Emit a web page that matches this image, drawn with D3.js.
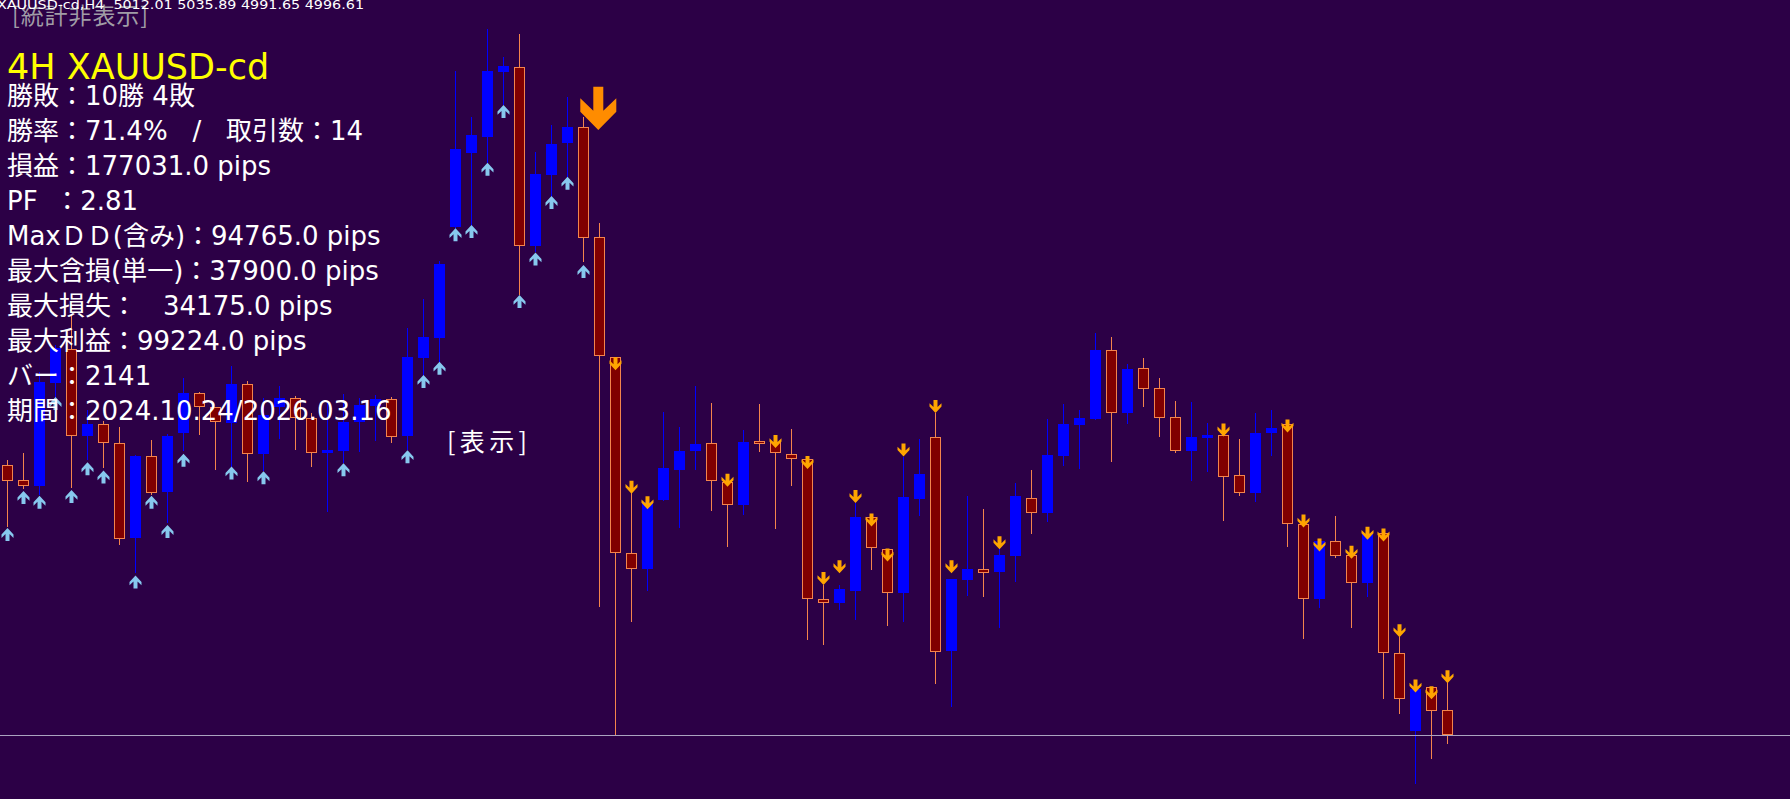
<!DOCTYPE html>
<html><head><meta charset="utf-8">
<script src="https://cdn.jsdelivr.net/npm/d3@7"></script>
<style>html,body{margin:0;padding:0;background:#2c0046;overflow:hidden} text{white-space:pre}</style>
</head><body><svg id="c" width="1790" height="799"></svg>
<script>
// ---- data (XAUUSD-cd, H4) ----
const opens = [5161.1,5152.0,5148.5,5211.2,5231.5,5178.9,5185.9,5174.3,5116.9,5166.6,
5144.8,5180.4,5204.7,5196.2,5186.5,5210.4,5167.8,5196.2,5201.7,5189.5,
5168.3,5169.8,5187.5,5197.0,5201.1,5178.9,5226.4,5238.6,5306.1,5351.2,
5360.9,5400.5,5403.1,5294.6,5337.6,5356.9,5366.6,5300.0,5226.8,5107.8,
5098.2,5139.9,5158.4,5169.7,5174.4,5150.6,5137.1,5175.7,5175.1,5167.6,
5164.6,5079.5,5077.3,5084.6,5129.3,5110.0,5083.4,5140.4,5178.0,5048.1,
5091.1,5097.6,5096.2,5105.9,5140.8,5131.7,5166.6,5185.4,5189.1,5231.1,
5193.1,5220.0,5207.8,5190.1,5169.8,5177.7,5179.4,5155.0,5144.2,5180.6,
5186.1,5125.2,5079.4,5114.8,5106.3,5089.1,5120.1,5046.5,4999.4,5026.2,5012.01];
const highs = [5164.1,5168.2,5217.7,5234.1,5253.0,5194.6,5188.1,5184.4,5167.2,5176.3,
5179.9,5213.9,5205.5,5196.7,5221.4,5212.2,5201.7,5209.2,5203.1,5192.6,
5198.8,5204.3,5201.9,5203.7,5202.7,5244.3,5261.9,5285.6,5400.9,5373.1,
5426.3,5409.2,5423.4,5351.8,5368.0,5385.2,5372.7,5308.5,5226.8,5144.1,
5139.2,5193.2,5184.6,5209.2,5199.2,5150.8,5182.5,5198.2,5175.7,5183.0,
5164.7,5088.1,5088.1,5137.8,5129.5,5110.3,5166.0,5176.7,5192.6,5092.0,
5142.2,5134.3,5110.0,5150.0,5158.1,5188.9,5198.2,5194.6,5241.6,5239.2,
5222.4,5226.0,5213.9,5200.1,5199.6,5186.5,5179.7,5177.3,5192.6,5194.6,
5186.4,5125.4,5115.2,5130.1,5106.6,5119.4,5120.3,5056.6,5024.8,5026.3,5035.89];
const lows = [5123.6,5146.5,5142.8,5200.7,5146.9,5164.1,5159.1,5112.4,5095.2,5142.8,
5125.6,5169.6,5179.4,5158.1,5160.1,5150.8,5157.6,5177.3,5170.2,5160.1,
5132.7,5162.3,5169.2,5175.7,5174.7,5170.2,5214.8,5223.8,5304.4,5306.1,
5344.7,5380.2,5264.6,5290.5,5324.4,5335.6,5284.6,5074.7,4996.2,5065.8,
5084.3,5139.5,5122.8,5158.4,5133.4,5111.0,5130.7,5169.1,5122.4,5148.5,
5055.0,5051.9,5072.9,5067.0,5097.2,5063.1,5065.7,5130.1,5027.8,5014.0,
5081.4,5081.0,5061.8,5090.1,5119.0,5126.6,5160.5,5158.9,5188.5,5163.1,
5186.1,5196.6,5178.0,5168.6,5151.6,5157.2,5127.2,5142.4,5138.8,5166.6,
5111.4,5055.6,5073.9,5104.3,5062.3,5081.0,5019.1,5009.5,4967.0,4982.0,4991.65];
const closes = [5151.5,5148.5,5211.4,5232.1,5178.9,5186.1,5174.3,5116.2,5166.6,5144.2,
5178.9,5205.1,5196.2,5187.5,5210.4,5167.6,5191.6,5201.7,5189.5,5168.7,
5170.2,5187.3,5197.6,5201.1,5178.3,5226.6,5238.8,5283.6,5353.4,5361.9,
5400.9,5403.9,5294.6,5338.2,5356.5,5367.0,5299.2,5227.8,5107.8,5098.2,
5138.8,5159.1,5169.7,5174.0,5151.7,5136.6,5175.1,5174.0,5168.2,5165.1,
5079.4,5077.5,5085.5,5129.6,5110.8,5083.4,5141.8,5155.6,5047.5,5091.7,
5097.8,5095.6,5106.3,5142.2,5131.7,5167.2,5186.1,5189.5,5231.1,5193.1,
5219.5,5207.2,5189.9,5169.8,5178.0,5179.4,5154.0,5144.2,5180.9,5183.9,
5125.2,5079.4,5114.8,5105.9,5089.1,5119.1,5046.5,5018.5,5024.6,5011.6,4996.61];

const buyBars   = [0,1,2,3,4,5,6,8,9,10,11,14,16,21,25,26,27,28,29,30,31,32,33,34,35,36];
const buyPrices = [5122.8,5145.4,5142.4,5202.5,5146.0,5162.8,5157.9,5094.0,5142.4,5124.6,5168.0,5160.3,5157.3,5162.3,5170.2,5215.9,5224.0,5305.2,5307.2,5345.1,5380.2,5264.6,5290.5,5324.8,5336.6,5282.8];
const sellBars   = [38,39,40,45,48,50,51,52,53,54,55,56,58,59,62,76,80,81,82,84,85,86,87,88,89,90];
const sellPrices = [5226.8,5151.6,5142.2,5155.9,5179.4,5166.6,5096.0,5103.3,5145.9,5131.7,5110.4,5174.3,5200.7,5103.3,5117.9,5186.5,5188.9,5131.1,5116.5,5112.0,5123.6,5122.6,5064.3,5030.7,5026.6,5036.3];
const bigSellBar = 36, bigSellPrice = 5391.3;

const headerText = "XAUUSD-cd,H4  5012.01 5035.89 4991.65 4996.61";
const titleText = "4H XAUUSD-cd";
const statLines = [
 "勝敗：10勝 4敗",
 "勝率：71.4%   /   取引数：14",
 "損益：177031.0 pips",
 "PF  ：2.81",
 "MaxＤＤ(含み)：94765.0 pips",
 "最大含損(単一)：37900.0 pips",
 "最大損失：　34175.0 pips",
 "最大利益：99224.0 pips",
 "バー：2141",
 "期間：2024.10.24/2026.03.16"
];
const bidPrice = 4996.61;

// ---- drawing ----
const W = 1790, H = 799;
const svg = d3.select('#c');
svg.append('rect').attr('width', W).attr('height', H).attr('fill', '#2c0046');

const x = d3.scaleLinear().domain([0, 90]).range([7.3, 1447.3]);
const y = d3.scaleLinear().domain([4957.96, 5444.1]).range([799, 0]);

const BULL = '#0000ff', BEAR_FILL = '#800000', BEAR_LINE = '#f4844c';
const data = opens.map((o, i) => ({i, o, h: highs[i], l: lows[i], c: closes[i]}));

const g = svg.append('g');
data.forEach(d => {
  const cx = Math.round(x(d.i));
  const bull = d.c >= d.o;
  const col = bull ? BULL : BEAR_LINE;
  g.append('line').attr('x1', cx + 0.5).attr('x2', cx + 0.5)
    .attr('y1', Math.round(y(d.h))).attr('y2', Math.round(y(d.l)))
    .attr('stroke', col).attr('stroke-width', 1);
  const top = Math.round(y(Math.max(d.o, d.c)));
  const bot = Math.round(y(Math.min(d.o, d.c)));
  if (bull) {
    g.append('rect').attr('x', cx - 5).attr('y', top).attr('width', 11)
      .attr('height', Math.max(1, bot - top)).attr('fill', BULL);
  } else {
    g.append('rect').attr('x', cx - 4.5).attr('y', top + 0.5).attr('width', 10)
      .attr('height', Math.max(2, bot - top - 1)).attr('fill', BEAR_FILL)
      .attr('stroke', BEAR_LINE).attr('stroke-width', 1);
  }
});

// bid line
svg.append('line').attr('x1', 0).attr('x2', W)
  .attr('y1', Math.round(y(bidPrice)) + 0.5).attr('y2', Math.round(y(bidPrice)) + 0.5)
  .attr('stroke', '#aaa3c0').attr('stroke-width', 1);

// arrows
const upPath = "M0,0 L6,6.5 L6,9.8 L2,6 L2,13 L-2,13 L-2,6 L-6,9.8 L-6,6.5 Z";
const downPath = "M-2,0 L2,0 L2,7 L6,3.2 L6,6.5 L0,13 L-6,6.5 L-6,3.2 L-2,7 Z";
const bigPath = "M-5,0 L5,0 L5,24 L18,11.5 L18,25 L0,43.3 L-18,25 L-18,11.5 L-5,24 Z";
buyBars.forEach((b, k) => {
  svg.append('path').attr('d', upPath)
    .attr('transform', `translate(${Math.round(x(b)) + 0.5},${y(buyPrices[k])})`)
    .attr('fill', '#87c8ee');
});
sellBars.forEach((b, k) => {
  svg.append('path').attr('d', downPath)
    .attr('transform', `translate(${Math.round(x(b)) + 0.5},${y(sellPrices[k])})`)
    .attr('fill', '#ffa500');
});
svg.append('path').attr('d', bigPath)
  .attr('transform', `translate(${x(bigSellBar) + 15},${y(bigSellPrice)})`)
  .attr('fill', '#ff8c00');

// texts
const LAT = '"DejaVu Sans","Noto Sans CJK JP",sans-serif';
svg.append('text').attr('x', 12).attr('y', 24).text('[統計非表示]')
  .attr('font-family', '"Noto Sans CJK JP",sans-serif').attr('font-size', 23)
  .attr('fill', '#a09ca6').attr('textLength', 136).attr('lengthAdjust', 'spacing');
svg.append('text').attr('x', -3).attr('y', 9).text(headerText)
  .attr('font-family', LAT).attr('font-size', 13).attr('fill', '#ffffff')
  .attr('textLength', 367).attr('lengthAdjust', 'spacingAndGlyphs');
svg.append('text').attr('x', 7).attr('y', 79).text(titleText)
  .attr('font-family', LAT).attr('font-size', 35).attr('fill', '#ffff00');
statLines.forEach((t, k) => {
  svg.append('text').attr('x', 7).attr('y', 105 + 35 * k).text(t)
    .attr('font-family', LAT).attr('font-size', 26).attr('fill', '#ffffff');
});
svg.append('text').attr('x', 447).attr('y', 451).text('[表示]')
  .attr('font-family', '"Noto Sans CJK JP",sans-serif').attr('font-size', 25)
  .attr('fill', '#ffffff').attr('textLength', 80).attr('lengthAdjust', 'spacing');
</script>
</body></html>
